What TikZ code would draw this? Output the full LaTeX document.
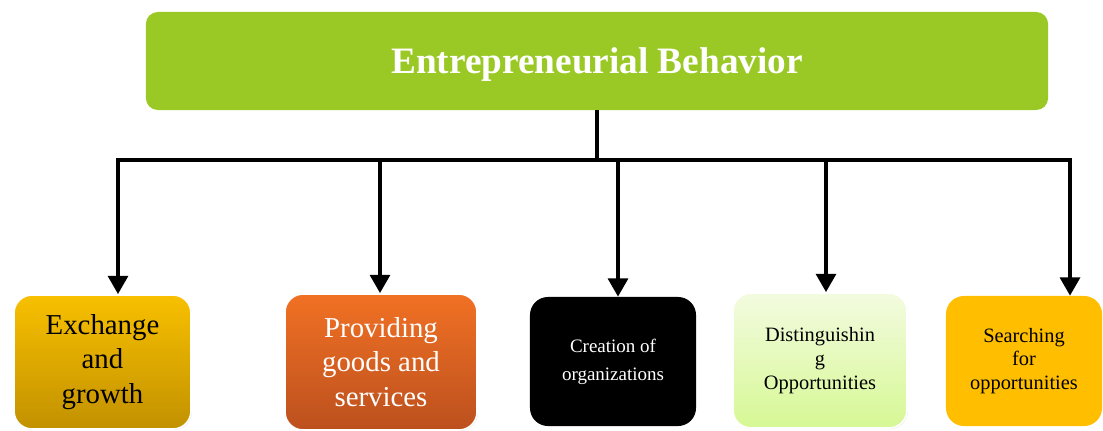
\documentclass[tikz,border=0pt]{standalone}
\usepackage{fontspec}
\setmainfont{Liberation Serif}
\usetikzlibrary{arrows.meta,shadows}
\definecolor{leafgreen}{RGB}{154,200,36}
\definecolor{ambertop}{RGB}{248,192,0}
\definecolor{amberbot}{RGB}{194,145,0}
\definecolor{rusttop}{RGB}{241,113,36}
\definecolor{rustbot}{RGB}{188,80,30}
\definecolor{limetop}{RGB}{243,251,224}
\definecolor{limebot}{RGB}{214,248,148}
\definecolor{goldfill}{RGB}{255,191,0}

\begin{document}
\begin{tikzpicture}[x=0.025cm, y=-0.025cm, >={Triangle[width=14pt,length=13pt]}]
    \tikzset{
        branch/.style={draw=black, line width=2.8pt},
        leaf/.style={rounded corners=0.45cm, align=center, inner sep=2pt},
        soft/.style={draw=white, line width=1.2pt,
            drop shadow={opacity=0.25, shadow xshift=0.6pt, shadow yshift=-0.6pt}},
        bigtext/.style={font=\fontsize{20.5}{24.5}\selectfont},
        smalltext/.style={font=\fontsize{14.5}{17}\selectfont},
    }
    \useasboundingbox (0,0) rectangle (1103,430);

    % heading
    \node[fill=leafgreen, rounded corners=0.3cm, minimum width=22.55cm, minimum height=2.45cm,
          text=white, text depth=0pt, font=\fontsize{26.5}{30}\selectfont\bfseries] (top) at (597,61) {Entrepreneurial Behavior};

    % the five behaviours
    \node[leaf, soft, bigtext, top color=ambertop, bottom color=amberbot,
          minimum width=4.425cm, minimum height=3.35cm] (b1) at (102.5,362) {Exchange\\and\\growth};
    \node[leaf, soft, bigtext, text=white, top color=rusttop, bottom color=rustbot,
          minimum width=4.8cm, minimum height=3.4cm] (b2) at (381,362) {Providing\\goods and\\services};
    \node[leaf, fill=black, text=white, font=\fontsize{13.5}{20}\selectfont,
          minimum width=4.15cm, minimum height=3.225cm] (b3) at (613,361.5) {Creation of\\organizations};
    \node[leaf, soft, smalltext, top color=limetop, bottom color=limebot,
          minimum width=4.35cm, minimum height=3.375cm] (b4) at (820,360.5) {Distinguishin\\g\\Opportunities};
    \node[leaf, smalltext, fill=goldfill,
          minimum width=3.9cm, minimum height=3.25cm] (b5) at (1024,361) {Searching\\for\\opportunities};

    % tree of connectors
    \coordinate (d1) at (118,160);
    \coordinate (d2) at (380,160);
    \coordinate (d3) at (618,160);
    \coordinate (d4) at (826,160);
    \coordinate (d5) at (1070,160);

    \draw[branch] (top.south) -- (top.south |- d1);
    \draw[branch] ([xshift=-1.4pt]d1) -- ([xshift=1.4pt]d5);
    \foreach \i in {1,...,5}
        \draw[branch, ->] (d\i) -- (d\i |- b\i.north);
\end{tikzpicture}
\end{document}
